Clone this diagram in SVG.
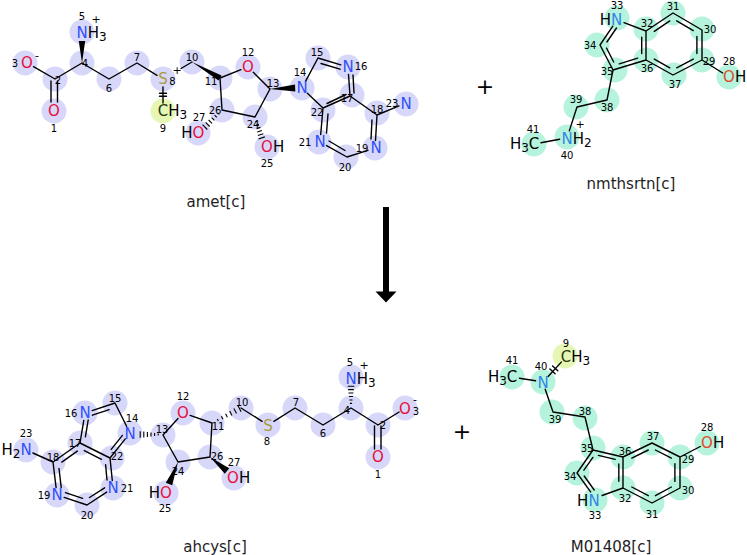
<svg xmlns="http://www.w3.org/2000/svg" width="747" height="555" viewBox="0 0 747 555">
<style>
.b{stroke:#000;stroke-width:1.4;fill:none;stroke-linecap:round;stroke-linejoin:round}
.h{stroke:#000;stroke-width:1.1;fill:none}
.w{fill:#000}
.L{fill:#d7d7fa}.T{fill:#b5f3dd}.Y{fill:#e6f7b5}
text{font-family:"DejaVu Sans","Liberation Sans",sans-serif;dominant-baseline:central;fill:#000}
.e{font-size:15px}
.m{text-anchor:middle}
.i{font-size:10px;text-anchor:middle}
.ch{font-size:11px;text-anchor:middle}
.sb{font-size:12px}
.N{fill:#3050f8}.O{fill:#e8103a}.S{fill:#a99a3c}
.Nt{fill:#2e87e8}.Ot{fill:#e04a2c}.Cy{fill:#2b3a10}
.nm{font-size:15px;text-anchor:middle;fill:#1e1e1e}
.pl{font-size:22px;text-anchor:middle}
</style>

<g id="amet">
<g>
<circle class="L" cx="25" cy="63" r="12.5"/><circle class="L" cx="55" cy="79" r="12.5"/><circle class="L" cx="54" cy="111" r="12.5"/>
<circle class="L" cx="82" cy="63" r="12.5"/><circle class="L" cx="82" cy="32" r="12.5"/><circle class="L" cx="109" cy="79" r="12.5"/>
<circle class="L" cx="137" cy="63" r="12.5"/><circle class="L" cx="163" cy="79" r="12.5"/><circle class="L" cx="192" cy="62" r="12.5"/>
<circle class="L" cx="220" cy="78" r="12.5"/><circle class="L" cx="248" cy="67" r="12.5"/><circle class="L" cx="270" cy="89" r="12.5"/>
<circle class="L" cx="222" cy="110" r="12.5"/><circle class="L" cx="255" cy="117" r="12.5"/><circle class="L" cx="198" cy="133" r="12.5"/>
<circle class="L" cx="267" cy="147" r="12.5"/><circle class="L" cx="302" cy="88" r="12.5"/><circle class="L" cx="318" cy="58" r="12.5"/>
<circle class="L" cx="348" cy="67" r="12.5"/><circle class="L" cx="352" cy="95" r="12.5"/><circle class="L" cx="323" cy="110" r="12.5"/>
<circle class="L" cx="377" cy="113" r="12.5"/><circle class="L" cx="406" cy="104" r="12.5"/><circle class="L" cx="375" cy="148" r="12.5"/>
<circle class="L" cx="346" cy="157" r="12.5"/><circle class="L" cx="319" cy="142" r="12.5"/>
<circle class="Y" cx="163" cy="111" r="12.5"/>
</g>
<path class="b" d="M33.5,66.7L55,79 M51,81V102 M57.5,81V102 M55,79L82,63 M82,63L109,79L137,63L157,75.3 M181,68.5L192,62 M163,87V103 M159.5,93.3H166.5 M159.5,96.3H166.5 M220,78L241,69.7 M253.3,72.3L270,89 M220,78L222,110L255,117L270,89 M305.5,81.4L318,58L340.8,64.8 M321,63.5L340,69.2 M348.5,74.5L350,96 M353,75L354,93 M350,96L323,108 M327,103.5L346,94.5 M307.4,93.2L323,108L320.7,134.5 M328,114L326.5,133 M326.6,145.6L347,157L367.9,150.3 M329,141L345,150.5 M375.5,140.5L377,115 M371,139L372,120 M377,115L350,96 M377,115L399,105.9"/>
<polygon class="w" points="82,63 78.8,41 85.2,41"/>
<polygon class="w" points="192,62 221.5,75.4 218.5,80.6"/>
<polygon class="w" points="270,89 295,84.5 295.3,91.5"/>
<path class="h" d="M217.6,112.8L219.2,114.4 M214.6,115.2L216.8,117.4 M211.6,117.6L214.4,120.4 M208.6,120L212,123.4 M205.6,122.4L209.7,126.5 M202.5,124.7L207.3,129.5 M255.35,121.73L257.45,121.07 M255.97,125.17L258.93,124.23 M256.59,128.61L260.41,127.39 M257.22,132.04L261.88,130.56 M257.84,135.48L263.36,133.72 M258.46,138.92L264.84,136.88"/>
<text class="e O m" x="27" y="63">O</text><text class="ch" x="37" y="55">-</text><text class="i" x="15" y="63">3</text>
<text class="e O m" x="54" y="111">O</text><text class="i" x="54" y="128">1</text>
<text class="i" x="58" y="80">2</text>
<text class="e" x="76.4" y="33"><tspan class="N">N</tspan>H<tspan class="sb" dy="4">3</tspan></text>
<text class="i" x="82" y="16">5</text><text class="ch" x="96" y="19">+</text>
<text class="i" x="85" y="63">4</text>
<text class="i" x="109" y="88">6</text>
<text class="i" x="137" y="57">7</text>
<text class="e S m" x="163" y="79">S</text><text class="i" x="172.5" y="81">8</text><text class="ch" x="177" y="70">+</text>
<text class="e" x="157.8" y="111"><tspan class="Cy">C</tspan>H<tspan class="sb" dy="4">3</tspan></text>
<text class="i" x="163" y="128">9</text>
<text class="i" x="192" y="57">10</text>
<text class="i" x="211" y="81">11</text>
<text class="e O m" x="248" y="67">O</text><text class="i" x="248" y="52">12</text>
<text class="i" x="273" y="83">13</text>
<text class="i" x="215" y="110">26</text>
<text class="e" x="181.3" y="133">H<tspan class="O">O</tspan></text><text class="i" x="199" y="117">27</text>
<text class="i" x="253" y="124">24</text>
<text class="e" x="261.1" y="147"><tspan class="O">O</tspan>H</text><text class="i" x="267" y="163">25</text>
<text class="e N m" x="302" y="88">N</text><text class="i" x="300" y="72">14</text>
<text class="i" x="317" y="52">15</text>
<text class="e N m" x="348" y="67">N</text><text class="i" x="361" y="66">16</text>
<text class="i" x="347" y="98">17</text>
<text class="i" x="317" y="112">22</text>
<text class="e N m" x="320" y="142">N</text><text class="i" x="305" y="142">21</text>
<text class="i" x="345" y="167">20</text>
<text class="e N m" x="376" y="148">N</text><text class="i" x="362" y="148">19</text>
<text class="i" x="377" y="109">18</text>
<text class="e N m" x="406" y="104">N</text><text class="i" x="392" y="103">23</text>
<text class="nm" x="216" y="202">amet[c]</text>
</g>

<g id="nmthsrtn">
<g>
<circle class="T" cx="617" cy="18" r="12.5"/><circle class="T" cx="646" cy="29" r="12.5"/><circle class="T" cx="673" cy="13" r="12.5"/>
<circle class="T" cx="702" cy="29" r="12.5"/><circle class="T" cx="702" cy="60" r="12.5"/><circle class="T" cx="674" cy="75" r="12.5"/>
<circle class="T" cx="646" cy="60" r="12.5"/><circle class="T" cx="615" cy="70" r="12.5"/><circle class="T" cx="597" cy="45" r="12.5"/>
<circle class="T" cx="607" cy="100" r="12.5"/><circle class="T" cx="576" cy="107" r="12.5"/><circle class="T" cx="567" cy="137" r="12.5"/>
<circle class="T" cx="534" cy="144" r="12.5"/><circle class="T" cx="729" cy="77" r="12.5"/>
</g>
<path class="b" d="M624,22.7L646,31 M612.8,26.2L600,45L613,70L646,60L646,31L673,13L702,30L702,60L673,75L646,60 M702,60L722.7,73 M613,70L607,100L577,107L569.3,130.9 M559.6,139.3L540.9,142.7 M654.3,31.3L669.8,20.9 M676.7,20.8L693.3,30.6 M696.9,36.4L696.9,53.6 M693.3,59.1L676.7,67.8 M669.8,67.8L654.3,59.1 M641.7,37.3L641.7,53.5 M637.7,58.2L619.3,63.8 M613.7,62L606.5,48 M606.9,42L616.5,28"/>
<text class="e" x="599.7" y="20">H<tspan class="Nt">N</tspan></text><text class="i" x="617" y="5">33</text>
<text class="i" x="647" y="23">32</text>
<text class="i" x="673" y="6">31</text>
<text class="i" x="710" y="29">30</text>
<text class="i" x="709" y="61">29</text>
<text class="i" x="729" y="61">28</text>
<text class="e" x="723.1" y="77"><tspan class="Ot">O</tspan>H</text>
<text class="i" x="675" y="84">37</text>
<text class="i" x="647" y="68">36</text>
<text class="i" x="607" y="71">35</text>
<text class="i" x="590" y="45">34</text>
<text class="i" x="607" y="107">38</text>
<text class="i" x="576" y="99">39</text>
<text class="e" x="561.4" y="139"><tspan class="Nt">N</tspan>H<tspan class="sb" dy="4">2</tspan></text>
<text class="ch" x="580" y="124">+</text><text class="i" x="567" y="155">40</text>
<text class="e" x="509.9" y="144">H<tspan class="sb" dy="4">3</tspan><tspan dy="-4">C</tspan></text>
<text class="i" x="533" y="129">41</text>
<text class="nm" x="631" y="184">nmthsrtn[c]</text>
</g>

<g id="ahcys">
<g>
<circle class="L" cx="26" cy="450" r="12.5"/><circle class="L" cx="53" cy="462" r="12.5"/><circle class="L" cx="57" cy="495" r="12.5"/>
<circle class="L" cx="87" cy="505" r="12.5"/><circle class="L" cx="113" cy="488" r="12.5"/><circle class="L" cx="112" cy="458" r="12.5"/>
<circle class="L" cx="80" cy="443" r="12.5"/><circle class="L" cx="85" cy="413" r="12.5"/><circle class="L" cx="115" cy="403" r="12.5"/>
<circle class="L" cx="130" cy="433" r="12.5"/><circle class="L" cx="163" cy="435" r="12.5"/><circle class="L" cx="183" cy="413" r="12.5"/>
<circle class="L" cx="212" cy="423" r="12.5"/><circle class="L" cx="241" cy="408" r="12.5"/><circle class="L" cx="210" cy="457" r="12.5"/>
<circle class="L" cx="234" cy="478" r="12.5"/><circle class="L" cx="178" cy="462" r="12.5"/><circle class="L" cx="166" cy="493" r="12.5"/>
<circle class="L" cx="268" cy="425" r="12.5"/><circle class="L" cx="295" cy="408" r="12.5"/><circle class="L" cx="323" cy="425" r="12.5"/>
<circle class="L" cx="351" cy="408" r="12.5"/><circle class="L" cx="351" cy="377" r="12.5"/><circle class="L" cx="378" cy="425" r="12.5"/>
<circle class="L" cx="405" cy="408" r="12.5"/><circle class="L" cx="378" cy="457" r="12.5"/>
</g>
<path class="b" d="M32.9,453L53,462L56.1,487.6 M64.1,497.4L87,505L106.7,492.1 M112.3,480.5L110,458L80,443L53,462 M80,443L83.8,420.4 M92.1,410.6L115,403L126.6,426.3 M125.3,438.9L110,458 M77.3,451.1L61.8,462.1 M59,468.5L61.2,487.4 M65.4,492.7L82.6,498.4 M89.5,497.5L104.6,487.8 M107,480L105.6,464.8 M101.5,459.3L84.3,450.6 M85.4,436.8L88.2,420 M92.4,415.2L109.2,409.6 M122.4,435.4L111.2,449.4 M163,435L178,418.5 M190.1,415.4L212,423L210,457L178,462L163,435 M241,408L262.1,421.3 M273.9,421.3L295,408L323,425L351,408L378,425L399.1,412 M374.5,426V449 M381,426V449"/>
<path class="h" d="M158.2,433.4V435.6 M154.6,432.95V436.05 M151,432.5V436.5 M147.4,432.05V436.95 M143.8,431.6V437.4 M140.2,431.15V437.85 M217.29,419.02L218.31,420.98 M221.44,416.37L222.86,419.13 M225.58,413.72L227.42,417.28 M229.72,411.07L231.98,415.43 M233.87,408.42L236.53,413.58 M238.01,405.77L241.09,411.73 M349.9,403.4H352.1 M349.45,400H352.55 M349,396.5H353 M348.55,393H353.45 M348.1,389.6H353.9 M347.65,386.2H354.35"/>
<polygon class="w" points="178,462 172.2,485.3 165.8,482.7"/>
<polygon class="w" points="210,457 224.8,473.7 229.2,468.3"/>
<text class="e" x="1.5" y="450">H<tspan class="sb" dy="4">2</tspan><tspan class="N" dy="-4">N</tspan></text><text class="i" x="26" y="433">23</text>
<text class="i" x="53" y="457">18</text>
<text class="e N m" x="57" y="495">N</text><text class="i" x="44" y="495">19</text>
<text class="i" x="87" y="515">20</text>
<text class="e N m" x="113" y="488">N</text><text class="i" x="127" y="488">21</text>
<text class="i" x="117" y="456">22</text>
<text class="i" x="75" y="443">17</text>
<text class="e N m" x="85" y="413">N</text><text class="i" x="71" y="413">16</text>
<text class="i" x="115" y="398">15</text>
<text class="e N m" x="130" y="434">N</text><text class="i" x="132" y="418">14</text>
<text class="i" x="162" y="429">13</text>
<text class="e O m" x="183" y="413">O</text><text class="i" x="183" y="396">12</text>
<text class="i" x="218" y="426">11</text>
<text class="i" x="242" y="402">10</text>
<text class="i" x="217" y="456">26</text>
<text class="e" x="227.1" y="478"><tspan class="O">O</tspan>H</text><text class="i" x="234" y="462">27</text>
<text class="i" x="178" y="471">24</text>
<text class="e" x="148.8" y="493">H<tspan class="O">O</tspan></text><text class="i" x="165" y="508">25</text>
<text class="e S m" x="268" y="426">S</text><text class="i" x="267" y="441">8</text>
<text class="i" x="296" y="402">7</text>
<text class="i" x="323" y="433">6</text>
<text class="i" x="347" y="410">4</text>
<text class="e" x="345.4" y="379"><tspan class="N">N</tspan>H<tspan class="sb" dy="4">3</tspan></text>
<text class="i" x="350" y="362">5</text><text class="ch" x="364" y="365">+</text>
<text class="i" x="383" y="425">2</text>
<text class="e O m" x="405" y="409">O</text><text class="i" x="416" y="411">3</text><text class="ch" x="415" y="399">-</text>
<text class="e O m" x="378" y="457">O</text><text class="i" x="378" y="474">1</text>
<text class="nm" x="215" y="547">ahcys[c]</text>
</g>

<g id="M01408">
<g>
<circle class="Y" cx="565" cy="356" r="12.5"/>
<circle class="T" cx="512" cy="377" r="12.5"/><circle class="T" cx="543" cy="382" r="12.5"/><circle class="T" cx="552" cy="412" r="12.5"/>
<circle class="T" cx="585" cy="418" r="12.5"/><circle class="T" cx="593" cy="448" r="12.5"/><circle class="T" cx="623" cy="457" r="12.5"/>
<circle class="T" cx="652" cy="443" r="12.5"/><circle class="T" cx="680" cy="457" r="12.5"/><circle class="T" cx="680" cy="488" r="12.5"/>
<circle class="T" cx="652" cy="503" r="12.5"/><circle class="T" cx="623" cy="488" r="12.5"/><circle class="T" cx="595" cy="500" r="12.5"/>
<circle class="T" cx="577" cy="473" r="12.5"/><circle class="T" cx="707" cy="443" r="12.5"/>
</g>
<path class="b" d="M519.4,378.2L535.6,380.8 M548.1,376.5L561.3,362.1 M549.9,368.9L555.1,373.7 M552.6,366L557.8,370.8 M545.2,389.2L553,412L585,417L593,450L623,457L623,488L602.1,495.5 M590.6,491.9L577,473L593,450 M623,457L652,443L680,457L680,488L652,503L623,488 M680,457L700.3,446.5 M631.8,458.1L648.3,450 M655.4,450L671.4,458.1 M674.9,463.6L674.9,481.4 M671.4,487L655.4,495.7 M648.3,495.7L631.8,487 M598.4,455.4L615.2,459.4 M618.8,463.9L618.8,481.3 M594.2,490L584.2,476 M583.9,470.2L592.9,457.4"/>
<text class="e" x="560.8" y="357"><tspan class="Cy">C</tspan>H<tspan class="sb" dy="4">3</tspan></text><text class="i" x="566" y="343">9</text>
<text class="e" x="487.9" y="377">H<tspan class="sb" dy="4">3</tspan><tspan dy="-4">C</tspan></text><text class="i" x="512" y="360">41</text>
<text class="e Nt m" x="543" y="383">N</text><text class="i" x="541" y="366">40</text>
<text class="i" x="555" y="419">39</text>
<text class="i" x="585" y="411">38</text>
<text class="i" x="587" y="448">35</text>
<text class="i" x="625" y="451">36</text>
<text class="i" x="653" y="436">37</text>
<text class="i" x="688" y="459">29</text>
<text class="i" x="707" y="427">28</text>
<text class="e" x="701.1" y="443"><tspan class="Ot">O</tspan>H</text>
<text class="i" x="688" y="490">30</text>
<text class="i" x="652" y="514">31</text>
<text class="i" x="625" y="498">32</text>
<text class="e" x="577.1" y="501">H<tspan class="Nt">N</tspan></text><text class="i" x="595" y="515">33</text>
<text class="i" x="570" y="476">34</text>
<text class="nm" x="611" y="547">M01408[c]</text>
</g>

<g id="connectors">
<rect x="383" y="207" width="6" height="85" fill="#000"/>
<polygon points="375.5,291.5 396.5,291.5 386,302.5" fill="#000"/>
</g>
<g id="plus">
<text class="pl" x="485" y="86">+</text>
<text class="pl" x="462" y="431">+</text>
</g>
</svg>
